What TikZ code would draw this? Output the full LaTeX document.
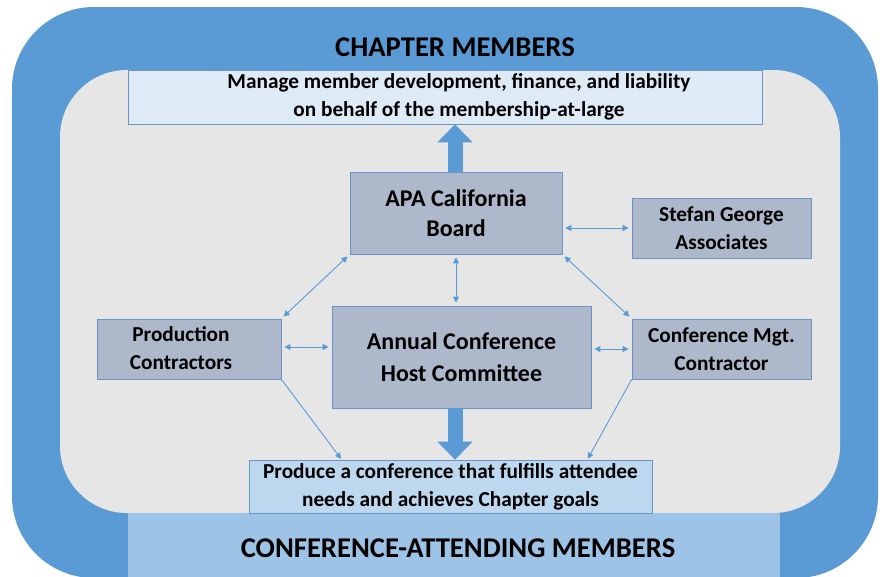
\documentclass[tikz,border=0pt]{standalone}
\usepackage{fontspec}
\setmainfont{Carlito}
\usetikzlibrary{arrows.meta,calc}
\definecolor{outerblue}{HTML}{5B9BD5}
\definecolor{innergray}{HTML}{E6E6E6}
\definecolor{topfill}{HTML}{DEEAF6}
\definecolor{boxfill}{HTML}{ADB9CA}
\definecolor{boxline}{HTML}{6A93C6}
\definecolor{prodfill}{HTML}{BDD7EE}
\definecolor{bandfill}{HTML}{9DC3E6}
\definecolor{arrowblue}{HTML}{5B9BD5}
\tikzset{
  orgbox/.style={draw=boxline, line width=0.8pt, fill=boxfill, inner sep=0pt, align=center},
  bigtext/.style={font=\fontsize{24}{30}\selectfont\bfseries},
  smalltext/.style={font=\fontsize{21.3}{28}\selectfont\bfseries},
  headtext/.style={font=\fontsize{28.6}{30}\selectfont\bfseries},
  twoway/.style={draw=arrowblue, line width=0.9pt, {Triangle[length=6pt,width=6pt]}-{Triangle[length=6pt,width=6pt]}, shorten <=3pt, shorten >=3pt},
  oneway/.style={draw=arrowblue, line width=0.9pt, -{Triangle[length=6pt,width=6pt]}, shorten >=1pt},
  fatarrow/.style={draw=arrowblue, line width=15pt, -{Triangle[length=18pt,width=34pt]}}
}
\begin{document}
\begin{tikzpicture}[x=1pt,y=-1pt]
\useasboundingbox (0,0) rectangle (880,576);
\fill[white] (0,0) rectangle (880,576);
% outer and inner frames
\fill[outerblue, rounded corners=82pt] (12,7) rectangle (878,578);
\fill[innergray, rounded corners=67pt] (60,70) rectangle (840,513);
% header and bands
\node[headtext] (chapter) at (455,47) {CHAPTER MEMBERS};
\node[draw=boxline, line width=0.6pt, fill=topfill, minimum width=634pt, minimum height=54pt, inner sep=0pt] (manage) at (445,97) {};
\node[smalltext, align=center, inner sep=0pt] (managetext) at (459,97) {Manage member development, finance, and liability\\on behalf of the membership-at-large};
\node[fill=bandfill, minimum width=652pt, minimum height=70pt, inner sep=0pt] (band) at (454,548) {};
\node[headtext, inner sep=0pt] (bandtext) at (458,548) {CONFERENCE-ATTENDING MEMBERS};
\node[draw=boxline, line width=0.6pt, fill=prodfill, minimum width=403pt, minimum height=53pt, inner sep=0pt, align=center, smalltext] (produce) at (450.5,486.5) {Produce a conference that fulfills attendee\\needs and achieves Chapter goals};
% boxes
\node[orgbox, bigtext, minimum width=212pt, minimum height=82pt] (board) at (456,213) {APA California\\Board};
\node[orgbox, minimum width=259pt, minimum height=102pt, font=\fontsize{24}{32}\selectfont\bfseries] (host) at (461.5,357) {Annual Conference\\Host Committee};
\node[orgbox, smalltext, minimum width=179pt, minimum height=60pt] (stefan) at (721.5,228) {Stefan George\\Associates};
\node[orgbox, smalltext, minimum width=179pt, minimum height=60pt] (mgt) at (721.5,349) {Conference Mgt.\\Contractor};
\node[orgbox, minimum width=184pt, minimum height=60pt] (prodc) at (189,349) {};
\node[smalltext, align=center, inner sep=0pt] (prodctext) at (181,348) {Production\\Contractors};
% helper coordinates
\coordinate (colA) at (455,0);
\coordinate (colB) at (456,0);
\coordinate (rowA) at (0,347);
\coordinate (pin1) at ($(produce.north west)+(93,0)$);
\coordinate (pin2) at ($(produce.north east)+(-65,0)$);
\coordinate (pin3) at (colA |- produce.north);
% fat arrows
\draw[fatarrow] (colA |- board.north) -- (colA |- manage.south);
\draw[fatarrow] (colA |- host.south) -- (pin3);
% thin arrows
\draw[twoway] (board.east |- stefan.west) -- (stefan.west);
\draw[twoway] (colB |- board.south) -- (colB |- host.north);
\draw[twoway] (board.south west) -- (prodc.north east);
\draw[twoway] (board.south east) -- (mgt.north west);
\draw[twoway] (prodc.east |- rowA) -- (host.west |- rowA);
\draw[twoway] (host.east |- mgt.west) -- (mgt.west);
\draw[oneway] (prodc.south east) -- (pin1);
\draw[oneway] (mgt.south west) -- (pin2);
\end{tikzpicture}
\end{document}
